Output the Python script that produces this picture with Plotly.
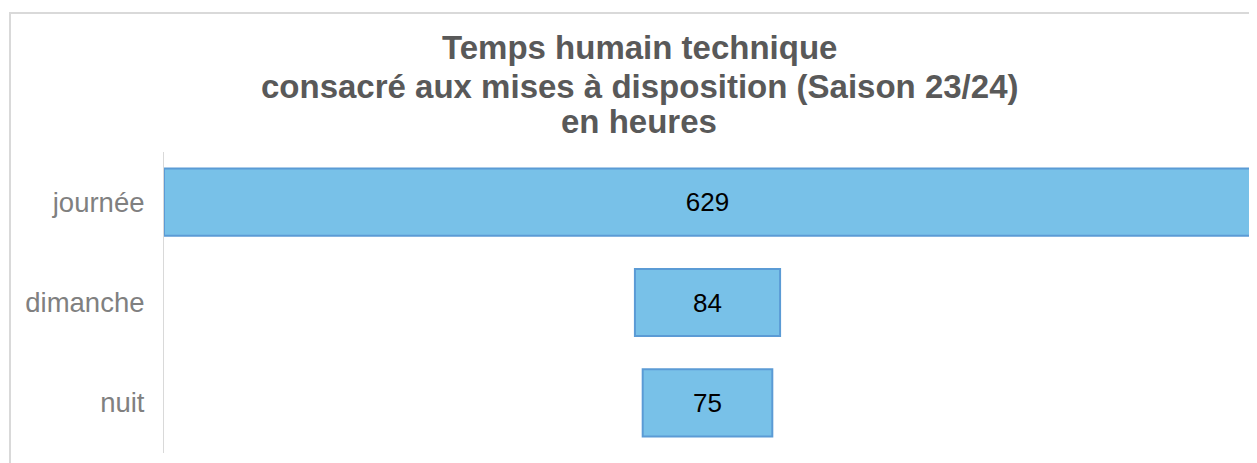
import plotly.graph_objects as go

categories = ["journée", "dimanche", "nuit"]
values = [629, 84, 75]
title_lines = ["Temps humain technique",
               "consacré aux mises à disposition (Saison 23/24)",
               "en heures"]

# page body has an 8px margin; size the figure so it fits the window
W, H = 1249, 455
L, R, T, B = 156, 6, 144, 10
pw, ph = W - L - R, H - T - B

FONT = "Liberation Sans, Arial, sans-serif"

fig = go.Figure(go.Funnel(
    y=categories,
    x=values,
    text=[str(v) for v in values],
    textinfo="text",
    textposition="inside",
    insidetextanchor="middle",
    textfont=dict(family=FONT, size=26, color="#000000"),
    marker=dict(color="#78c1e8", line=dict(color="#5b9bd5", width=2)),
    connector=dict(visible=False),
    hoverinfo="skip",
))

def py(fig_y):
    return 1 + (T - fig_y) / ph

def px(fig_x):
    return (fig_x - L) / pw

title_y = [39, 78, 113]
annotations = [
    dict(text=f"<b>{t}</b>", xref="paper", yref="paper",
         x=px(631), y=py(yy), xanchor="center", yanchor="middle",
         showarrow=False,
         font=dict(family=FONT, size=33, color="#595959"))
    for t, yy in zip(title_lines, title_y)
]

half = max(values) / 2
fig.update_layout(
    width=W, height=H,
    margin=dict(l=L, r=R, t=T, b=B),
    paper_bgcolor="white", plot_bgcolor="white",
    showlegend=False,
    funnelgap=0.33,
    xaxis=dict(visible=False, range=[-half, half], fixedrange=True),
    yaxis=dict(
        showline=True, linecolor="#d9d9d9", linewidth=1,
        showgrid=False, zeroline=False, ticks="",
        ticklabelstandoff=13,
        tickfont=dict(family=FONT, size=27.5, color="#808080"),
    ),
    annotations=annotations,
    shapes=[dict(
        type="rect", xref="paper", yref="paper",
        x0=px(2), x1=px(W + 20),
        y0=-0.2, y1=py(5),
        line=dict(color="#d9d9d9", width=2), fillcolor="rgba(0,0,0,0)",
        layer="below",
    )],
)

fig.write_html("out.html")
